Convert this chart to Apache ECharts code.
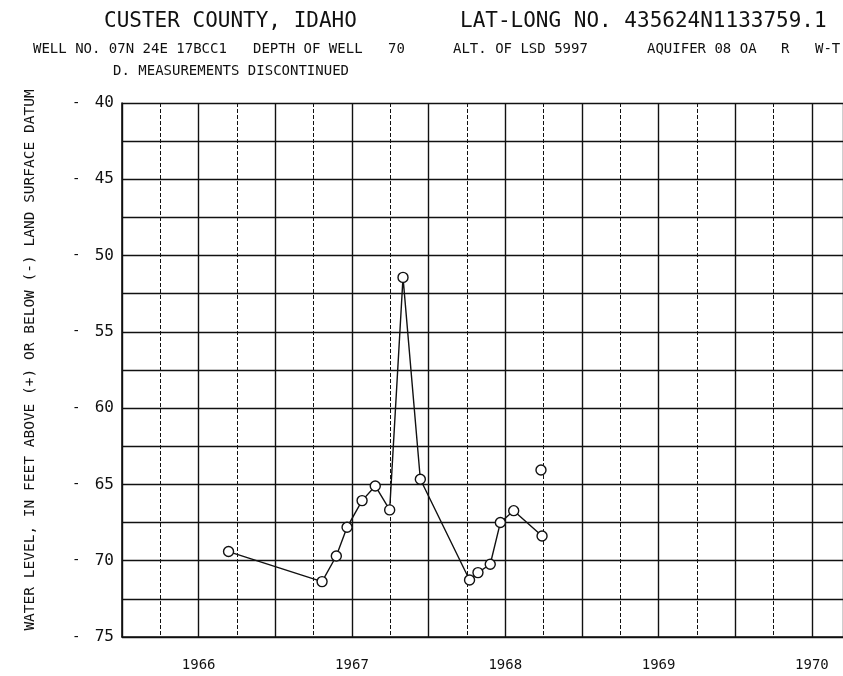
<!DOCTYPE html>
<html><head><meta charset="utf-8">
<script src="https://cdn.jsdelivr.net/npm/echarts/dist/echarts.min.js"></script>
<style>html,body{margin:0;padding:0;background:#fff}#c{width:843px;height:676px}</style>
</head><body><div id="c"></div>
<script>
// ---- data ----
const yearLabels = [1966, 1967, 1968, 1969, 1970];
const yTickLabels = [40, 45, 50, 55, 60, 65, 70, 75];
const dates = [1966.695, 1967.305, 1967.398, 1967.468, 1967.566, 1967.652, 1967.746, 1967.833, 1967.946, 1968.267, 1968.322, 1968.402, 1968.468, 1968.555, 1968.740];
const levels = [69.40, 71.37, 69.69, 67.81, 66.06, 65.10, 66.67, 51.43, 64.66, 71.26, 70.78, 70.23, 67.50, 66.72, 68.38];
const extraDates = [1968.733];
const extraLevels = [64.05];

const seriesData = dates.map((d, i) => [d, levels[i]]);
const extraData = extraDates.map((d, i) => [d, extraLevels[i]]);

const MONO = '"DejaVu Sans Mono", "Liberation Mono", monospace';
const INK = '#111';
const X_MAX = 1970.703; // right edge of the visible (cropped) sheet

const chart = echarts.init(document.getElementById('c'), null, {renderer: 'canvas'});
function txt(text, x, y, size) {
  return {type: 'text', x: x, y: y, style: {text: text, fill: INK, font: size + 'px ' + MONO, textVerticalAlign: 'middle', textAlign: 'left'}};
}
const marker = {color: '#fff', borderColor: INK, borderWidth: 1.4, opacity: 1};
chart.setOption({
  animation: false,
  backgroundColor: '#fff',
  grid: {left: 122, top: 103, right: 0, bottom: 39},
  xAxis: [{
    type: 'value', min: 1966, max: X_MAX, interval: 0.5,
    axisLine: {show: true, lineStyle: {color: INK, width: 1.6}},
    axisTick: {show: false},
    splitLine: {show: true, lineStyle: {color: INK, width: 1.4, type: 'solid'}},
    axisLabel: {
      color: INK, fontFamily: MONO, fontSize: 14, margin: 21, showMaxLabel: false,
      formatter: v => { const y = Math.floor(v); return (Math.abs(v - y - 0.5) < 1e-6 && yearLabels.includes(y)) ? String(y) : ''; }
    }
  }, {
    type: 'value', min: 1966, max: X_MAX, interval: 0.25, position: 'bottom',
    axisLine: {show: false}, axisTick: {show: false}, axisLabel: {show: false},
    splitLine: {show: true, lineStyle: {color: INK, width: 1, type: [4, 2]}}
  }],
  yAxis: {
    type: 'value', inverse: true, min: 40, max: 75, interval: 2.5,
    axisLine: {show: true, lineStyle: {color: INK, width: 1.6}},
    axisTick: {show: false},
    splitLine: {show: true, lineStyle: {color: INK, width: 1.4}},
    axisLabel: {
      margin: 8, color: INK, fontFamily: MONO,
      formatter: v => yTickLabels.includes(v) ? '{d|-}{n|' + v + '}' : '',
      rich: {
        d: {width: 24, align: 'left', fontSize: 14, fontFamily: MONO, color: INK},
        n: {width: 18, align: 'right', fontSize: 16, fontFamily: MONO, color: INK}
      }
    }
  },
  series: [{
    type: 'line', xAxisIndex: 0, data: seriesData,
    symbol: 'circle', symbolSize: 10, showSymbol: true,
    lineStyle: {color: INK, width: 1.4}, itemStyle: marker
  }, {
    type: 'scatter', xAxisIndex: 0, data: extraData,
    symbol: 'circle', symbolSize: 10, itemStyle: marker
  }],
  graphic: [
    txt('CUSTER COUNTY, IDAHO', 104, 22, 21),
    txt('LAT-LONG NO. 435624N1133759.1', 460, 22, 21),
    txt('WELL NO. 07N 24E 17BCC1', 33, 49, 14),
    txt('DEPTH OF WELL', 253, 49, 14),
    txt('70', 388, 49, 14),
    txt('ALT. OF LSD 5997', 453, 49, 14),
    txt('AQUIFER 08 OA', 647, 49, 14),
    txt('R', 781, 49, 14),
    txt('W-T', 815, 49, 14),
    txt('D. MEASUREMENTS DISCONTINUED', 113, 71, 14),
    {type: 'text', x: 30, y: 360, rotation: Math.PI / 2,
     style: {text: 'WATER LEVEL, IN FEET ABOVE (+) OR BELOW (-) LAND SURFACE DATUM', fill: INK, font: '14.5px ' + MONO, textAlign: 'center', textVerticalAlign: 'middle'}}
  ]
});
</script>
</body></html>
